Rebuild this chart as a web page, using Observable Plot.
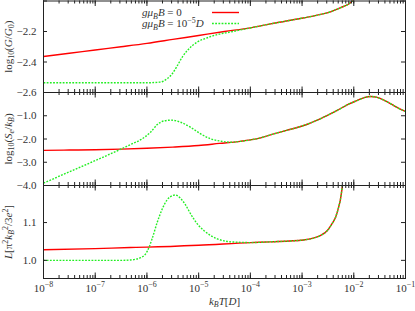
<!DOCTYPE html>
<html><head><meta charset="utf-8">
<script src="https://cdn.jsdelivr.net/npm/d3@7"></script>
<script src="https://cdn.jsdelivr.net/npm/@observablehq/plot@0.6"></script>
<style>
html,body{margin:0;padding:0;background:#fff;}
#chart{position:relative;width:415px;height:311px;overflow:hidden;background:#fff;}
#chart svg{position:absolute;left:0;top:0;overflow:visible;}
</style></head><body><div id="chart"></div>
<script>
// ---------- data (x given as log10 of k_B T / D) ----------
// Panel 1: log10(G/G0)
const p1RedLogT = [-8, -7.5, -7, -6.5, -6, -5.5, -5, -4.5, -4, -3.8, -3.61, -3.3, -2.96, -2.64, -2.45, -2.32, -2.2, -2.09, -2.03, -1.97];
const p1RedVal  = [-2.364, -2.343, -2.321, -2.300, -2.278, -2.252, -2.226, -2.200, -2.176, -2.163, -2.150, -2.131, -2.110, -2.088, -2.071, -2.053, -2.036, -2.018, -2.000, -1.975];
const p1GreenLogT = [-8, -7, -6, -5.75, -5.61, -5.51, -5.41, -5.32, -5.22, -5.12, -5.03, -4.83, -4.64, -4.38, -4.13, -3.8, -3.61, -3.3, -2.96, -2.64, -2.45, -2.32, -2.2, -2.09, -2.03, -1.97];
const p1GreenVal  = [-2.536, -2.536, -2.536, -2.532, -2.510, -2.477, -2.423, -2.369, -2.325, -2.292, -2.270, -2.241, -2.220, -2.203, -2.185, -2.163, -2.150, -2.131, -2.110, -2.088, -2.071, -2.053, -2.036, -2.018, -2.000, -1.975];
// Panel 2: log10(S_e/k_B)
const p2RedLogT = [-8, -7.5, -7, -6.5, -6, -5.5, -5, -4.6, -4.19, -4, -3.8, -3.61, -3.3, -2.97, -2.64, -2.32, -2.1, -1.93, -1.8, -1.675, -1.55, -1.4, -1.25, -1.1, -1.0];
const p2RedVal  = [-2.49, -2.475, -2.46, -2.435, -2.40, -2.35, -2.28, -2.19, -2.10, -2.04, -1.95, -1.82, -1.63, -1.42, -1.12, -0.77, -0.50, -0.34, -0.22, -0.17, -0.21, -0.35, -0.53, -0.72, -0.82];
const p2GreenLogT = [-8, -7.5, -7, -6.5, -6.32, -6.12, -5.93, -5.8, -5.67, -5.54, -5.45, -5.35, -5.16, -4.96, -4.77, -4.58, -4.38, -4.19, -4, -3.8, -3.61, -3.3, -2.97, -2.64, -2.32, -2.1, -1.93, -1.8, -1.675, -1.55, -1.4, -1.25, -1.1, -1.0];
const p2GreenVal  = [-3.90, -3.41, -2.93, -2.43, -2.24, -2.03, -1.71, -1.38, -1.22, -1.19, -1.21, -1.28, -1.49, -1.78, -1.99, -2.09, -2.14, -2.10, -2.04, -1.95, -1.82, -1.63, -1.42, -1.12, -0.77, -0.50, -0.34, -0.22, -0.17, -0.21, -0.35, -0.53, -0.72, -0.82];
// Panel 3: L [pi^2 k_B^2 / 3e^2]
const p3RedLogT = [-8, -7, -6.32, -6, -5, -4, -3.61, -2.97, -2.64, -2.51, -2.42, -2.35, -2.29, -2.26, -2.22, -2.18];
const p3RedVal  = [1.028, 1.031, 1.034, 1.035, 1.040, 1.047, 1.049, 1.054, 1.066, 1.079, 1.097, 1.115, 1.142, 1.160, 1.197, 1.240];
const p3GreenLogT = [-8, -7, -6.5, -6.32, -6.12, -5.99, -5.9, -5.8, -5.7, -5.61, -5.51, -5.45, -5.35, -5.25, -5.16, -5.03, -4.9, -4.77, -4.64, -4.45, -4.25, -4, -3.61, -2.97, -2.64, -2.51, -2.42, -2.35, -2.29, -2.26, -2.22, -2.18];
const p3GreenVal  = [1.000, 1.000, 1.000, 1.001, 1.007, 1.025, 1.057, 1.101, 1.137, 1.160, 1.171, 1.173, 1.164, 1.146, 1.124, 1.097, 1.079, 1.066, 1.057, 1.050, 1.048, 1.047, 1.049, 1.054, 1.066, 1.079, 1.097, 1.115, 1.142, 1.160, 1.197, 1.240];

// ticks and labels
const xMajorTicks = [1e-8, 1e-7, 1e-6, 1e-5, 1e-4, 1e-3, 1e-2, 1e-1];
const xTickLabels = ["10^{−8}", "10^{−7}", "10^{−6}", "10^{−5}", "10^{−4}", "10^{−3}", "10^{−2}", "10^{−1}"];
const p1YTicks = [-2.6, -2.4, -2.2, -2.0];
const p1YLabels = ["−2.6", "−2.4", "−2.2", ""];
const p2YTicks = [-4, -3, -2, -1, 0];
const p2YLabels = ["−4.0", "−3.0", "−2.0", "−1.0", ""];
const p3YTicks = [1.0, 1.1];
const p3YLabels = ["1.0", "1.1"];
const legendLabels = ["*gμ*_{*B*}*B* = 0", "*gμ*_{*B*}*B* = 10^{−5}*D*"];
const seriesColors = ["#ff0000", "#22ee22"];
const seriesDash = [null, "1.8,1.4"];

// ---------- helpers ----------
const W = 415, H = 311, ML = 43, MR = 10;
const FONT = "'Liberation Serif', 'DejaVu Serif', serif";
const FS = 11;
const INK = "#333";
const NS = "http://www.w3.org/2000/svg";
const toRows = (lt, v) => lt.map((d, i) => ({T: Math.pow(10, d), v: v[i]}));
const minorTicks = d3.scaleLog().domain([1e-8, 1e-1]).ticks();

function rich(el, src, fs) {
  while (el.firstChild) el.removeChild(el.firstChild);
  let mode = null, italic = false, shift = 0, buf = "";
  const flush = () => {
    if (!buf) return;
    const t = document.createElementNS(NS, "tspan");
    const target = mode === "sup" ? -0.38 * fs : mode === "sub" ? 0.22 * fs : 0;
    if (target !== shift) { t.setAttribute("dy", (target - shift).toFixed(2)); shift = target; }
    if (mode) t.setAttribute("font-size", (0.72 * fs).toFixed(2));
    if (italic) t.setAttribute("font-style", "italic");
    t.textContent = buf;
    el.appendChild(t);
    buf = "";
  };
  for (let i = 0; i < src.length; i++) {
    const c = src[i];
    if ((c === "^" || c === "_") && src[i + 1] === "{") { flush(); mode = c === "^" ? "sup" : "sub"; i++; }
    else if (c === "}" && mode) { flush(); mode = null; }
    else if (c === "*") { flush(); italic = !italic; }
    else buf += c;
  }
  flush();
}
function richify(svg) {
  svg.querySelectorAll("text").forEach(el => {
    const s = el.textContent;
    if (/[\^_*]/.test(s)) rich(el, s, FS);
  });
}

function panel({top, bottom, yDomain, red, green, yTicks, yLabels, yTitle, xAxis}) {
  const fh = bottom - top, fw = W - ML - MR;
  const tickStroke = {stroke: "#222", strokeWidth: 1};
  const marks = [
    Plot.line(red, {x: "T", y: "v", stroke: seriesColors[0], strokeWidth: 1.4, curve: "monotone-x", clip: true}),
    Plot.line(green, {x: "T", y: "v", stroke: seriesColors[1], strokeWidth: 1.4, strokeDasharray: seriesDash[1], strokeLinecap: "butt", curve: "monotone-x", clip: true}),
    // x ticks, inward, top and bottom
    Plot.ruleX(minorTicks, {x: d => d, insetTop: fh - 3, ...tickStroke}),
    Plot.ruleX(minorTicks, {x: d => d, insetBottom: fh - 3, ...tickStroke}),
    Plot.ruleX(xMajorTicks, {x: d => d, insetTop: fh - 5.5, ...tickStroke}),
    Plot.ruleX(xMajorTicks, {x: d => d, insetBottom: fh - 5.5, ...tickStroke}),
    // y ticks, inward, left and right
    Plot.ruleY(yTicks, {y: d => d, insetRight: fw - 4, ...tickStroke}),
    Plot.ruleY(yTicks, {y: d => d, insetLeft: fw - 4, ...tickStroke}),
    Plot.frame({stroke: "#222", strokeWidth: 1}),
    Plot.text(yTicks.map((t, i) => ({t, s: yLabels[i]})).filter(d => d.s), {
      y: "t", text: "s", frameAnchor: "left", dx: -7, textAnchor: "end", fill: INK, fontSize: FS
    }),
    Plot.text([yTitle], {text: d => d, frameAnchor: "left", dx: -35, rotate: -90, textAnchor: "middle", fill: INK, fontSize: FS})
  ];
  if (xAxis) {
    marks.push(
      Plot.text(xMajorTicks.map((t, i) => ({t, s: xTickLabels[i]})), {x: "t", text: "s", frameAnchor: "bottom", dy: 13, fill: INK, fontSize: FS}),
      Plot.text(["*k*_{*B*}*T*[*D*]"], {text: d => d, frameAnchor: "bottom", dy: 26, fill: INK, fontSize: FS})
    );
  }
  const svg = Plot.plot({
    width: W, height: H,
    marginLeft: ML, marginRight: MR, marginTop: top, marginBottom: H - bottom,
    x: {type: "log", domain: [1e-8, 1e-1], axis: null},
    y: {domain: yDomain, axis: null},
    style: {background: "transparent", overflow: "visible", fontFamily: FONT, fontSize: FS + "px"},
    marks
  });
  richify(svg);
  return svg;
}

const chart = document.getElementById("chart");
const s1 = panel({top: 0.5, bottom: 92, yDomain: [-2.6, -2.0],
  red: toRows(p1RedLogT, p1RedVal), green: toRows(p1GreenLogT, p1GreenVal),
  yTicks: p1YTicks, yLabels: p1YLabels, yTitle: "log_{10}(*G*/*G*_{0})"});
const s2 = panel({top: 92, bottom: 185, yDomain: [-4, 0],
  red: toRows(p2RedLogT, p2RedVal), green: toRows(p2GreenLogT, p2GreenVal),
  yTicks: p2YTicks, yLabels: p2YLabels, yTitle: "log_{10}(*S*_{*e*}/*k*_{*B*})"});
const s3 = panel({top: 185, bottom: 278, yDomain: [0.952, 1.198],
  red: toRows(p3RedLogT, p3RedVal), green: toRows(p3GreenLogT, p3GreenVal),
  yTicks: p3YTicks, yLabels: p3YLabels, yTitle: "*L*[π^{2}*k*_{*B*}^{2}/3*e*^{2}]", xAxis: true});
chart.append(s1, s2, s3);

// legend (key) in the top panel
const g = d3.select(s1).append("g").attr("font-family", FONT).attr("font-size", FS).attr("text-anchor", "start");
legendLabels.forEach((lab, i) => {
  const y = 12.5 + i * 11;
  const t = g.append("text").attr("x", 142).attr("y", y).attr("dy", "0.35em").attr("fill", INK).text(lab);
  rich(t.node(), lab, FS);
  g.append("line").attr("x1", 212).attr("x2", 239).attr("y1", y).attr("y2", y)
    .attr("stroke", seriesColors[i]).attr("stroke-width", 1.4)
    .attr("stroke-dasharray", seriesDash[i]);
});
</script></body></html>
